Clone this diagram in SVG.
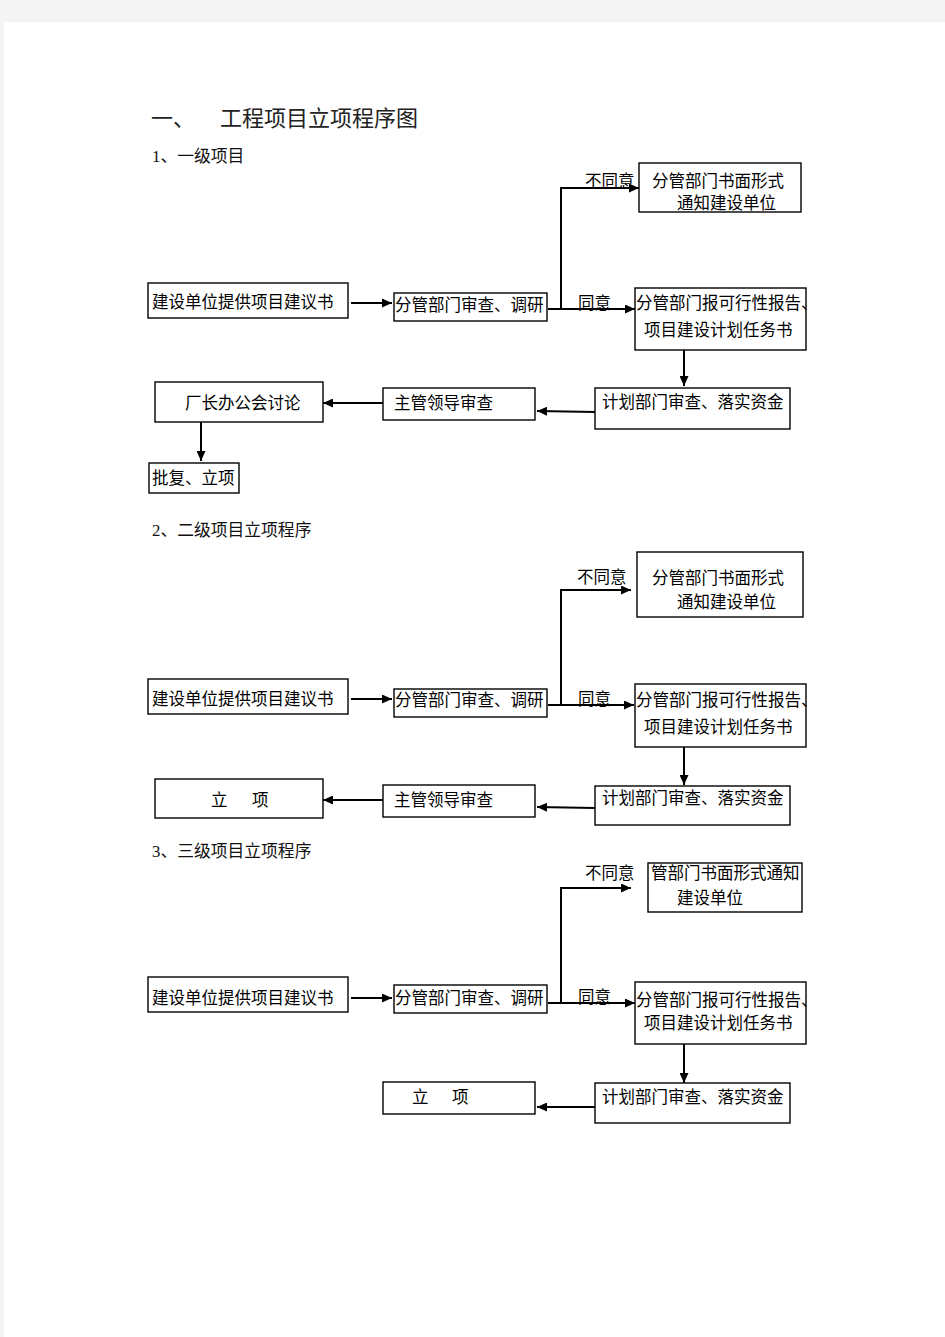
<svg xmlns="http://www.w3.org/2000/svg" width="945" height="1337" viewBox="0 0 945 1337">
<defs>
<style>
.bx{fill:#fff;stroke:#000;stroke-width:1.4}
.t{font-family:"Noto Sans CJK SC","Noto Sans CJK JP",sans-serif;font-size:16.5px;fill:#000}
.h{font-family:"Liberation Serif","Noto Sans CJK SC",serif;font-size:16.8px;fill:#111}
.ti{font-family:"Noto Sans CJK SC",sans-serif;font-size:22px;fill:#222}
.c{fill:none;stroke:#000;stroke-width:2}
</style>
<marker id="ah" markerUnits="userSpaceOnUse" markerWidth="11" markerHeight="9" refX="10" refY="4.5" orient="auto">
<path d="M0,0 L10,4.5 L0,9 z" fill="#000"/>
</marker>
</defs>
<rect x="0" y="0" width="945" height="1337" fill="#f4f4f4"/>
<rect x="4" y="22" width="941" height="1315" fill="#fff"/>

<g id="headings">
<text class="ti" x="151" y="126">一、</text>
<text class="ti" x="220" y="126">工程项目立项程序图</text>
<text class="h" x="152" y="162">1、一级项目</text>
<text class="h" x="152" y="536">2、二级项目立项程序</text>
<text class="h" x="152" y="857">3、三级项目立项程序</text>
</g>

<g id="connectors">
<path class="c" d="M351 303 H392" marker-end="url(#ah)"/>
<path class="c" d="M548 309 H635" marker-end="url(#ah)"/>
<path class="c" d="M561 309 V188 H639" marker-end="url(#ah)"/>
<path class="c" d="M684 350 V386" marker-end="url(#ah)"/>
<path class="c" d="M595 412 L537 411" marker-end="url(#ah)"/>
<path class="c" d="M383 403 H323" marker-end="url(#ah)"/>
<path class="c" d="M201 422 V461" marker-end="url(#ah)"/>

<path class="c" d="M351 699 H392" marker-end="url(#ah)"/>
<path class="c" d="M548 705 H634" marker-end="url(#ah)"/>
<path class="c" d="M561 705 V590 H631" marker-end="url(#ah)"/>
<path class="c" d="M684 747 V785" marker-end="url(#ah)"/>
<path class="c" d="M595 808 L537 807" marker-end="url(#ah)"/>
<path class="c" d="M383 800 H323" marker-end="url(#ah)"/>

<path class="c" d="M351 998 H392" marker-end="url(#ah)"/>
<path class="c" d="M548 1003 H635" marker-end="url(#ah)"/>
<path class="c" d="M561 1003 V888 H631" marker-end="url(#ah)"/>
<path class="c" d="M684 1044 V1083" marker-end="url(#ah)"/>
<path class="c" d="M595 1107 L537 1107" marker-end="url(#ah)"/>
</g>

<g id="labels">
<text class="t" x="585" y="187">不同意</text>
<text class="t" x="578" y="309">同意</text>
<text class="t" x="577" y="583">不同意</text>
<text class="t" x="578" y="705">同意</text>
<text class="t" x="585" y="879">不同意</text>
<text class="t" x="578" y="1003">同意</text>
</g>

<g id="s1-proposal"><rect class="bx" x="148" y="283" width="200" height="35"/><text class="t" x="152" y="308">建设单位提供项目建议书</text></g>
<g id="s1-review"><rect class="bx" x="394" y="293" width="153" height="28"/><text class="t" x="395" y="311">分管部门审查、调研</text></g>
<g id="s1-notify"><rect class="bx" x="639" y="163" width="162" height="49"/><text class="t" x="652" y="187">分管部门书面形式</text><text class="t" x="677" y="209">通知建设单位</text></g>
<g id="s1-report"><rect class="bx" x="635" y="288" width="171" height="62"/><text class="t" x="636" y="309">分管部门报可行性报告、</text><text class="t" x="644" y="336">项目建设计划任务书</text></g>
<g id="s1-plan"><rect class="bx" x="595" y="388" width="195" height="41"/><text class="t" x="602" y="408">计划部门审查、落实资金</text></g>
<g id="s1-leader"><rect class="bx" x="383" y="388" width="152" height="32"/><text class="t" x="394" y="409">主管领导审查</text></g>
<g id="s1-meeting"><rect class="bx" x="155" y="382" width="168" height="40"/><text class="t" x="185" y="409">厂长办公会讨论</text></g>
<g id="s1-approve"><rect class="bx" x="149" y="463" width="90" height="30"/><text class="t" x="152" y="484">批复、立项</text></g>

<g id="s2-proposal"><rect class="bx" x="148" y="679" width="200" height="35"/><text class="t" x="152" y="705">建设单位提供项目建议书</text></g>
<g id="s2-review"><rect class="bx" x="394" y="689" width="153" height="28"/><text class="t" x="395" y="706">分管部门审查、调研</text></g>
<g id="s2-notify"><rect class="bx" x="637" y="552" width="166" height="65"/><text class="t" x="652" y="584">分管部门书面形式</text><text class="t" x="677" y="608">通知建设单位</text></g>
<g id="s2-report"><rect class="bx" x="635" y="684" width="171" height="63"/><text class="t" x="636" y="706">分管部门报可行性报告、</text><text class="t" x="644" y="733">项目建设计划任务书</text></g>
<g id="s2-plan"><rect class="bx" x="595" y="786" width="195" height="39"/><text class="t" x="602" y="804">计划部门审查、落实资金</text></g>
<g id="s2-leader"><rect class="bx" x="383" y="785" width="152" height="32"/><text class="t" x="394" y="806">主管领导审查</text></g>
<g id="s2-approve"><rect class="bx" x="155" y="779" width="168" height="39"/><text class="t" x="211" y="806">立</text><text class="t" x="252" y="806">项</text></g>

<g id="s3-proposal"><rect class="bx" x="148" y="977" width="200" height="35"/><text class="t" x="152" y="1004">建设单位提供项目建议书</text></g>
<g id="s3-review"><rect class="bx" x="394" y="985" width="153" height="28"/><text class="t" x="395" y="1004">分管部门审查、调研</text></g>
<g id="s3-notify"><rect class="bx" x="648" y="863" width="154" height="49"/><text class="t" x="651" y="879">管部门书面形式通知</text><text class="t" x="677" y="904">建设单位</text></g>
<g id="s3-report"><rect class="bx" x="635" y="982" width="171" height="62"/><text class="t" x="636" y="1006">分管部门报可行性报告、</text><text class="t" x="644" y="1029">项目建设计划任务书</text></g>
<g id="s3-plan"><rect class="bx" x="595" y="1083" width="195" height="40"/><text class="t" x="602" y="1103">计划部门审查、落实资金</text></g>
<g id="s3-approve"><rect class="bx" x="383" y="1082" width="152" height="32"/><text class="t" x="412" y="1103">立</text><text class="t" x="452" y="1103">项</text></g>
</svg>
